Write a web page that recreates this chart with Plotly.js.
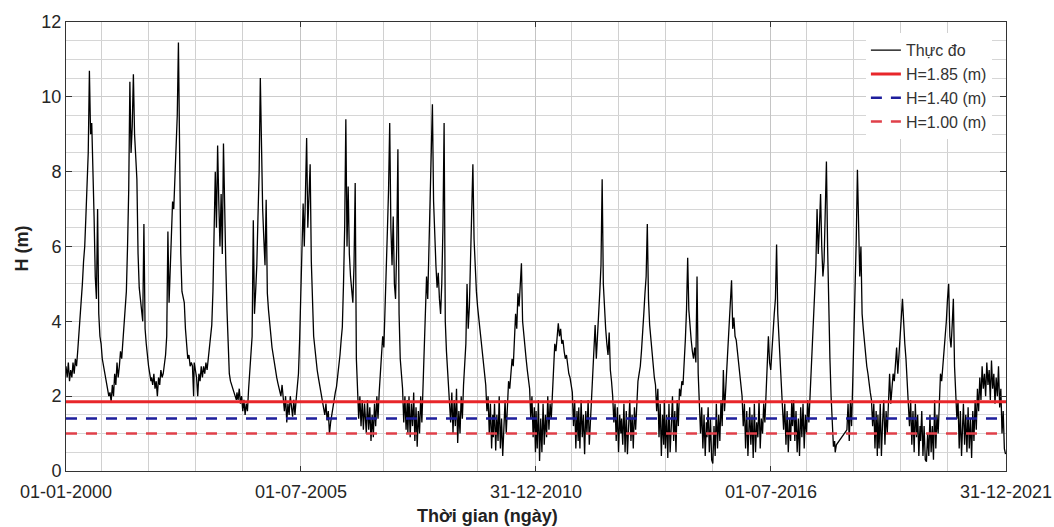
<!DOCTYPE html>
<html><head><meta charset="utf-8">
<script src="https://cdn.plot.ly/plotly-3.0.1.min.js"></script>
<style>html,body{margin:0;padding:0;background:#fff}#chart{width:1054px;height:527px}</style>
</head><body><div id="chart"></div>
<script>
// Daily water level H (m) at ~10-day samples, one array per year
const startYear = 2000;
const sampleStepDays = 10;
const h2000 = [2.8,2.5,2.9,2.4,2.7,2.5,2.9,2.6,3.0,2.8,3.2,3.6,4.1,4.6,5.0,5.6,6.0,6.8,7.6,8.5,10.7,9.0,9.3,7.5,6.8,5.2,4.6,7.0,4.2,3.6,3.4,3.0,2.8,2.6,2.4,2.2,2.1];
const h2001 = [2.0,2.1,1.85,2.3,2.0,2.6,2.3,2.9,2.5,2.8,3.2,3.0,3.5,3.9,4.3,4.8,6.0,7.5,10.4,8.5,9.2,10.6,9.0,8.2,7.8,5.8,4.9,4.6,4.3,4.0,6.6,3.8,3.4,3.0,2.8,2.6,2.4];
const h2002 = [2.5,2.3,2.6,2.2,2.4,2.0,2.5,2.3,2.7,2.5,2.6,2.9,3.1,3.6,6.4,4.5,5.5,6.3,7.2,7.0,7.8,8.6,9.5,11.45,8.0,5.8,4.8,4.6,4.5,3.8,3.3,3.0,3.1,2.8,2.9,2.8,2.0];
const h2003 = [2.9,2.7,2.5,2.0,2.6,2.4,2.8,2.5,2.8,2.6,2.9,2.7,3.0,3.2,3.5,3.9,4.8,6.2,8.0,6.5,8.7,7.2,6.0,7.4,5.8,8.75,6.8,5.5,4.3,3.2,2.6,2.4,2.3,2.2,2.1,2.0,1.9];
const h2004 = [2.1,1.9,2.2,1.8,2.0,1.6,1.9,1.5,1.8,1.6,2.2,2.6,3.1,3.6,6.7,4.2,4.8,5.5,6.8,8.0,10.5,8.4,7.0,6.2,5.5,7.25,4.75,4.3,3.9,3.6,3.3,3.1,2.9,2.6,2.5,2.35,2.2];
const h2005 = [2.2,2.0,2.3,1.8,1.6,2.0,1.3,1.8,1.5,2.0,1.6,1.45,1.9,1.5,1.9,2.2,2.6,3.5,5.0,6.2,7.15,6.0,7.6,8.9,6.5,7.4,8.2,5.6,4.2,3.6,3.3,2.9,2.7,2.5,2.3,2.2,2.0];
const h2006 = [1.9,1.7,1.5,1.8,1.35,1.6,1.0,1.3,1.5,1.8,1.9,2.1,2.25,2.5,2.8,3.1,3.5,3.85,5.0,6.5,9.4,6.0,7.6,5.8,5.2,4.8,4.5,5.5,7.7,3.0,2.0,1.4,2.0,1.2,1.9,1.1,1.8];
const h2007 = [1.6,1.0,1.9,1.1,1.7,0.8,1.5,0.9,1.8,1.2,2.0,1.4,2.1,2.6,3.0,3.6,3.3,4.2,5.0,6.4,7.5,9.3,6.5,5.5,6.8,5.0,4.6,6.0,8.6,4.2,3.0,2.6,2.2,1.3,2.0,1.1,1.9];
const h2008 = [1.0,2.0,0.9,1.8,1.2,2.1,0.8,1.7,0.65,1.6,1.0,2.0,1.3,2.2,3.0,4.0,5.2,4.6,5.8,7.0,8.0,9.8,7.2,6.0,5.5,4.9,5.3,4.6,4.2,5.0,6.5,9.3,4.0,3.2,2.6,2.2,1.6];
const h2009 = [1.3,2.1,1.0,1.9,1.2,2.2,0.75,1.6,1.0,2.0,1.4,2.3,2.8,3.4,5.0,3.8,4.4,5.5,6.8,8.2,6.2,5.4,4.8,4.4,4.0,3.8,3.5,3.2,2.9,2.6,2.3,1.6,2.0,1.0,1.8,0.6,1.5];
const h2010 = [0.9,1.8,0.55,1.5,0.8,2.0,0.6,1.4,0.4,1.2,1.9,1.0,2.0,2.4,2.2,2.7,3.0,2.8,3.5,4.2,3.8,4.75,4.4,5.0,5.55,4.0,3.6,3.3,3.0,2.7,2.4,2.2,1.4,2.0,0.9,1.7,0.5];
const h2011 = [1.6,0.6,1.9,0.27,1.4,0.5,1.8,0.7,1.5,0.9,2.0,1.1,1.8,1.4,2.2,2.8,3.4,3.2,3.7,3.95,3.6,3.8,3.4,3.5,3.2,3.0,3.1,2.8,2.6,2.5,2.3,2.1,1.2,1.9,0.6,1.6,0.8];
const h2012 = [1.7,0.6,1.9,0.9,1.5,0.45,1.6,1.0,1.9,0.7,1.4,2.1,2.6,3.3,3.9,3.0,3.5,4.2,4.8,5.5,7.8,5.0,4.2,3.8,3.4,3.1,3.7,2.7,2.4,2.0,1.3,1.8,0.8,1.7,0.5,1.5,1.0];
const h2013 = [1.4,0.7,1.8,0.5,1.6,0.45,1.3,1.9,0.8,1.5,0.6,1.7,1.1,2.0,2.4,2.6,2.8,3.2,3.6,4.2,4.75,5.2,6.6,4.6,3.9,3.5,3.1,2.8,2.5,2.3,1.6,2.2,0.9,1.8,0.4,1.5,0.7];
const h2014 = [1.9,0.6,1.5,0.35,1.8,0.5,1.2,2.0,0.8,1.6,0.5,1.9,1.2,2.2,2.0,2.4,2.3,2.8,3.5,4.3,5.7,4.3,3.8,3.5,3.2,3.0,3.3,2.9,5.2,2.6,1.8,1.0,1.7,0.6,1.5,0.4,1.3];
const h2015 = [0.9,1.7,0.5,1.4,0.3,0.2,1.2,0.4,1.8,0.6,1.5,0.8,1.9,1.2,2.7,1.6,2.2,2.8,3.4,3.9,4.4,5.1,3.8,4.1,3.6,3.5,3.2,2.9,2.6,2.3,2.0,1.2,1.8,0.6,1.6,0.4,1.4];
const h2016 = [1.7,0.7,1.5,0.35,1.8,0.5,1.3,0.9,1.9,0.6,1.4,1.0,1.8,1.3,2.0,2.6,3.6,2.9,2.7,3.2,3.8,4.2,4.6,6.05,4.2,3.6,3.0,2.5,2.0,1.1,1.8,0.7,1.6,0.5,1.4,0.8,1.9];
const h2017 = [1.2,1.9,0.8,1.6,0.5,1.4,0.4,1.7,0.9,1.8,0.6,1.5,1.0,1.9,1.3,2.0,2.8,3.4,4.0,4.8,5.5,7.0,5.8,6.5,7.4,6.0,5.2,5.6,6.8,8.27,6.0,4.0,3.0,2.0,1.2,0.65,0.8];
const h2018 = [0.5,0.7,null,null,null,null,null,null,null,null,1.1,1.8,0.8,1.9,1.2,2.4,3.5,4.8,6.2,8.05,6.5,5.2,6.0,4.2,3.8,3.4,3.1,2.8,2.6,2.3,2.1,1.9,1.2,1.8,0.6,1.6,0.4];
const h2019 = [1.5,0.6,1.8,0.4,1.3,1.9,0.7,1.6,1.0,1.9,2.6,1.8,2.2,2.6,2.4,2.9,3.3,2.6,3.2,3.8,4.1,4.6,3.9,3.4,3.0,2.5,2.0,1.2,1.9,0.7,1.6,0.5,1.8,0.9,1.5,0.4,1.2];
const h2020 = [0.8,1.6,0.4,1.2,0.3,0.25,1.0,0.4,1.5,0.5,1.2,0.3,1.9,0.6,1.5,1.0,2.0,2.6,2.4,2.8,3.0,3.4,4.0,4.6,5.0,3.6,3.3,3.9,4.6,2.8,2.2,1.4,1.9,0.6,1.6,0.4,1.3];
const h2021 = [1.8,0.7,1.5,0.5,1.7,0.6,1.4,0.35,1.6,0.8,1.9,1.1,2.2,1.6,2.5,1.9,2.8,2.2,2.6,2.0,2.9,2.3,2.7,1.9,2.95,2.2,2.6,1.8,2.5,2.0,2.8,1.7,2.2,1.0,1.6,0.6,0.45];
const yearSeries = [h2000,h2001,h2002,h2003,h2004,h2005,h2006,h2007,h2008,h2009,h2010,
                    h2011,h2012,h2013,h2014,h2015,h2016,h2017,h2018,h2019,h2020,h2021];

const refLevels = [1.85, 1.40, 1.00];
const seriesNames = ['Thực đo', 'H=1.85 (m)', 'H=1.40 (m)', 'H=1.00 (m)'];
const tickDates = ['2000-01-01', '2005-07-01', '2010-12-31', '2016-07-01', '2021-12-31'];
const tickLabels = ['01-01-2000', '01-07-2005', '31-12-2010', '01-07-2016', '31-12-2021'];
const yTicks = [0, 2, 4, 6, 8, 10, 12];

const DAY = 86400000;
const xs = [], ys = [];
yearSeries.forEach((arr, k) => {
  const t0 = Date.UTC(startYear + k, 0, 1);
  arr.forEach((v, i) => {
    xs.push(new Date(t0 + i * sampleStepDays * DAY).toISOString().slice(0, 10));
    ys.push(v);
  });
});

// minor vertical grid (layout only)
const minorDates = [];
for (let m = 0; m < tickDates.length - 1; m++) {
  const base = Date.parse(tickDates[m]);
  for (let k = 0; k < 4; k++) {
    minorDates.push(new Date(base + (303 + 402 * k) * DAY).toISOString().slice(0, 10));
  }
}

const refStyles = [
  {color: '#e8262a', width: 3, dash: 'solid'},
  {color: '#1e1e9c', width: 2.5, dash: '11px,9px'},
  {color: '#e0404a', width: 2.5, dash: '11px,9px'}
];

const traces = [{
  x: xs, y: ys, type: 'scatter', mode: 'lines', name: seriesNames[0],
  connectgaps: true, line: {color: '#000', width: 1.3}
}];
refLevels.forEach((lv, j) => {
  traces.push({
    x: [tickDates[0], tickDates[tickDates.length - 1]], y: [lv, lv],
    type: 'scatter', mode: 'lines', name: seriesNames[j + 1], line: refStyles[j]
  });
});

const layout = {
  width: 1054, height: 527,
  margin: {l: 66, r: 48, t: 22, b: 56},
  paper_bgcolor: '#fff', plot_bgcolor: '#fff',
  font: {family: 'Liberation Sans, Arial, sans-serif', color: '#262626'},
  showlegend: true,
  legend: {x: 0.985, xanchor: 'right', y: 0.975, yanchor: 'top', bgcolor: '#fff',
           borderwidth: 0, font: {size: 16, color: '#333'}, tracegroupgap: 0},
  xaxis: {
    type: 'date', range: [tickDates[0], tickDates[tickDates.length - 1]],
    tickmode: 'array', tickvals: tickDates, ticktext: tickLabels,
    ticks: 'inside', ticklen: 5, tickcolor: '#333', tickwidth: 1,
    showline: true, linecolor: '#333', linewidth: 1, mirror: 'ticks',
    showgrid: true, gridcolor: '#c4c4c4', gridwidth: 1, zeroline: false,
    tickfont: {size: 18, color: '#262626'}, ticklabeloverflow: 'allow', ticklabelstandoff: 4,
    minor: {tickmode: 'array', tickvals: minorDates, showgrid: true, gridcolor: '#d0d0d0', gridwidth: 1, ticks: ''}
  },
  yaxis: {
    range: [0, 12], tickmode: 'array', tickvals: yTicks,
    ticks: 'inside', ticklen: 6, tickcolor: '#333', tickwidth: 1,
    showline: true, linecolor: '#333', linewidth: 1, mirror: 'ticks',
    showgrid: true, gridcolor: '#cccccc', gridwidth: 1, zeroline: false,
    tickfont: {size: 18, color: '#262626'},
    minor: {tickmode: 'linear', tick0: 0, dtick: 0.5, showgrid: true, gridcolor: '#d6d6d6', gridwidth: 1, ticks: ''}
  },
  annotations: [
    {text: '<b>Thời gian (ngày)</b>', xref: 'paper', yref: 'paper', x: 0.4484, y: -0.1,
     xanchor: 'center', yanchor: 'middle', showarrow: false, font: {size: 18, color: '#222'}},
    {text: '<b>H (m)</b>', xref: 'paper', yref: 'paper', x: -0.047, y: 0.495, textangle: -90,
     xanchor: 'center', yanchor: 'middle', showarrow: false, font: {size: 18, color: '#222'}}
  ]
};

Plotly.newPlot('chart', traces, layout, {displayModeBar: false, staticPlot: true});
</script>
</body></html>
